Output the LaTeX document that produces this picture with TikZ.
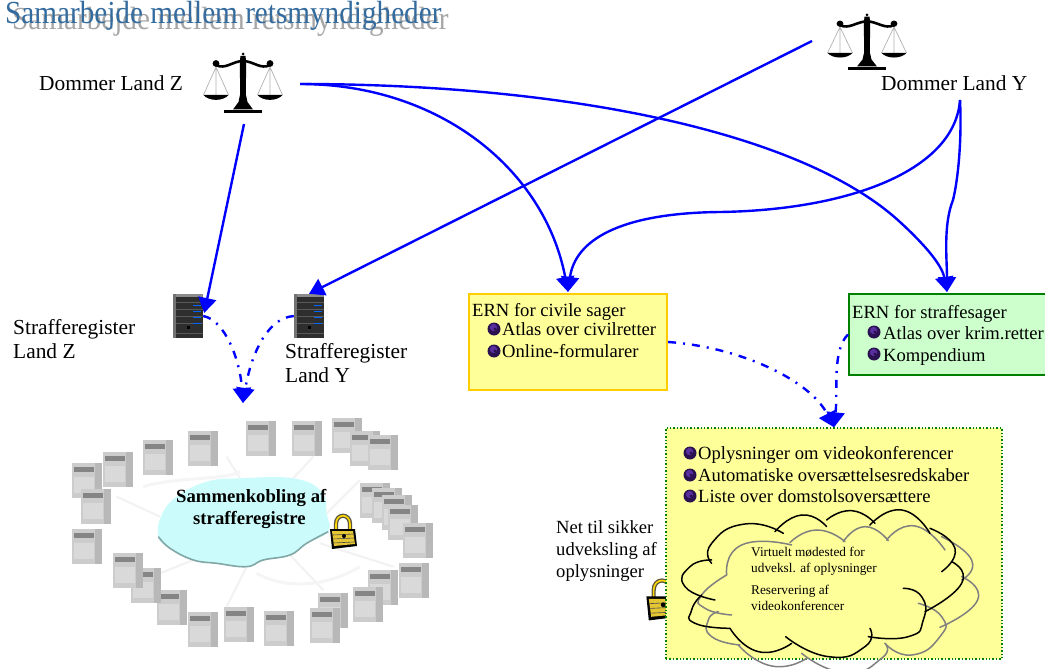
\documentclass[tikz,border=0pt]{standalone}
\usepackage{graphicx}
\usepackage{fontspec}
\setmainfont{Liberation Serif}
\usetikzlibrary{arrows.meta,calc}
\definecolor{linkblue}{HTML}{0000FF}
\definecolor{titleblue}{HTML}{336B9E}
\definecolor{boxyellow}{HTML}{FFFF99}
\definecolor{boxgreen}{HTML}{CCFFCC}
\definecolor{bulletdark}{HTML}{2A1250}
\definecolor{bulletmid}{HTML}{5A2FA0}
\definecolor{cloudpale}{HTML}{CCFBFB}
\newcommand\lobeB[1]{\draw[lobeblack] plot[smooth,tension=1] coordinates {#1};}
\newcommand\lobeG[1]{\draw[lobegray] plot[smooth,tension=1] coordinates {#1};}
\tikzset{
  x=1pt,y=-1pt,
  hardlink/.style={draw=linkblue,line width=2.4pt,-{Triangle[length=15pt,width=18pt]}},
  softlink/.style={hardlink,dash pattern=on 8pt off 7pt on 2pt off 7pt},
  label/.style={anchor=base west,inner sep=0pt,font=\fontsize{21.4}{24}\selectfont},
  small/.style={anchor=base west,inner sep=0pt,font=\fontsize{18.6}{22}\selectfont},
  tiny/.style={anchor=base west,inner sep=0pt,font=\fontsize{13.3}{16}\selectfont},
  boldlabel/.style={anchor=base west,inner sep=0pt,font=\fontsize{18.7}{22}\selectfont\bfseries},
  title/.style={anchor=base west,inner sep=0pt,font=\fontsize{29.2}{32}\selectfont},
  slot/.style={inner sep=0pt,minimum width=30pt,minimum height=44pt},
  lobeblack/.style={draw=black,line width=1.5pt,line cap=round},
  lobegray/.style={draw=black!50,line width=1.5pt,line cap=round},
  pics/scalesicon/.style={code={
    \fill (0,2) circle (1.5);
    \fill (-2.5,4) -- (2.5,4) -- (3.2,10) -- (2.8,42) -- (4.5,50) -- (10,57.5) -- (-10,57.5) -- (-4.5,50) -- (-2.8,42) -- (-3.2,10) -- cycle;
    \fill (-19,58) rectangle (19,61);
    \fill (-27,11.5) circle (3.4);
    \fill (27,11.5) circle (3.4);
    \draw[line width=2.6pt] (-27,13) .. controls (-18,18) and (-10,9) .. (0,9) .. controls (10,9) and (18,18) .. (27,13);
    \foreach \s in {-27,27}{
      \draw[black!30,line width=.7pt] (\s,15) -- (\s-12.5,43) (\s,15) -- (\s,43) (\s,15) -- (\s+12.5,43);
      \fill (\s-12.5,43) .. controls (\s-7,49.5) and (\s+7,49.5) .. (\s+12.5,43) -- cycle;
    }
  }},
  pics/rackicon/.style={code={
    \fill[black!82] (-15,-22) rectangle (15,22);
    \fill[black!55] (-15,-22) rectangle (-12,22);
    \fill[black!45] (-12,-22) -- (15,-22) -- (15,-19) -- (-12,-19) -- cycle;
    \foreach \v in {-14,-7,0,7,17}{\draw[black!65,line width=.4pt] (-12,\v) -- (15,\v);}
    \foreach \v in {-11,-5,1,7}{\draw[blue!60!cyan,line width=1pt] (5,\v) -- (13,\v);}
    \fill[black] (-1,10) rectangle (2,13);
  }},
  pics/towericon/.style={code={
    \fill[black!20] (0,0) rectangle (30,35);
    \fill[black!28] (23,0) rectangle (30,35);
    \fill[black!15] (2,14) rectangle (22,30);
    \fill[black!48] (2,4) rectangle (22,9);
  }},
  pics/dotmark/.style={code={
    \fill[bulletdark] (0,0) circle (6.5);
    \fill[bulletmid] (-0.5,-1.5) circle (3.6);
    \fill[bulletdark] (1,0) circle (1.6);
  }},
  pics/lockicon/.style={code={
    \draw[black!75!yellow,line width=4.2pt] (-7,0) -- (-7,-8) .. controls (-7,-19) and (7,-19) .. (7,-8) -- (7,0);
    \draw[yellow!75!orange,line width=1.6pt] (-7,0) -- (-7,-8) .. controls (-7,-19) and (7,-19) .. (7,-8) -- (7,0);
    \fill[black] (-13,-3) -- (12,-3) -- (14,14) -- (-11,17) -- cycle;
    \fill[yellow!55!brown] (-11,-1) -- (10,-1) -- (12,12) -- (-9,14) -- cycle;
    \foreach \v in {3,7,11}{\draw[black!70,line width=.6pt] (-10,\v) -- (11,\v-1);}
    \fill[black] (1,4) circle (2);
  }}
}
\begin{document}
\begin{tikzpicture}[x=1pt,y=-1pt]
\useasboundingbox (0,0) rectangle (1045,669);
\fill[white] (0,0) rectangle (1045,669);

% title
\node[title,text=black!35] (titleshadow) at (12,29.5) {\scalebox{1}[1.1]{Samarbejde mellem retsmyndigheder}};
\node[title,text=titleblue] (titlemain) at (5,23.5) {\scalebox{1}[1.1]{Samarbejde mellem retsmyndigheder}};

% judges
\pic at (243,52) {scalesicon};
\pic[yscale=.93] at (867,13) {scalesicon};
\node[label] (judgeZ) at (39,91) {Dommer Land Z};
\node[label] (judgeY) at (881,91) {Dommer Land Y};
\coordinate (zout) at (300,84);
\coordinate (zdown) at (244,124);
\coordinate (ydiag) at (812,41);
\coordinate (yout) at (960,100);

% registers
\node[slot] (srvZ) at (188,316) {};
\node[slot] (srvY) at (309,316) {};
\pic at (srvZ) {rackicon};
\pic at (srvY) {rackicon};
\node[label] (regZa) at (13,334) {Strafferegister};
\node[label] (regZb) at (13,358) {Land Z};
\node[label] (regYa) at (285,358) {Strafferegister};
\node[label] (regYb) at (285,382) {Land Y};

% interconnection image
\begin{scope}[shift={(60,400)},x=.3333pt,y=-.3333pt]
  \foreach \a/\b/\c/\d in {540/235/500/170,700/235/760/170,300/350/170/290,800/340/900/240,560/500/500/620,690/465/790/570,400/480/250/540,780/430/1000/500}{
    \draw[white!95!black,line width=2pt] (\a,\b) -- (\c,\d);
  }
  \draw[black!4,line width=3pt] (250,260) .. controls (350,230) and (500,240) .. (540,215);
  \draw[black!4,line width=3pt] (590,520) .. controls (680,570) and (800,560) .. (900,500);
  \fill[cloudpale] plot[smooth cycle,tension=.7] coordinates {(295,410) (305,345) (350,290) (440,245) (540,235) (700,235) (785,275) (800,340) (805,395) (740,430) (690,465) (610,480) (560,500) (470,490) (400,480) (330,445)};
  \draw[black!40!teal!50,line width=1.6pt] plot[smooth,tension=.7] coordinates {(295,410) (330,445) (400,480) (470,490) (560,500) (610,480) (690,465) (740,430) (805,395)};
  \foreach \u/\v in {35/190,130/155,250/120,385/92,558/62,695/62,815/55,870/92,925/105,900/250,935/265,965/285,985/315,1030/370,1018/490,925/510,880/560,775/580,750/625,612/632,492/620,385/635,292/570,212/505,158/460,35/388,62/268}{
    \begin{scope}[shift={(\u,\v)},x=1pt,y=-1pt]
      \pic[x=1pt,y=-1pt] {towericon};
    \end{scope}
  }
\end{scope}
\node[boldlabel] (cloudA) at (176,502) {Sammenkobling af};
\node[boldlabel] (cloudB) at (193,524) {strafferegistre};
\pic at (343,532) {lockicon};
\coordinate (cloudTop) at (243,403);

% ERN boxes
\node[draw={rgb,255:red,255;green,204;blue,0},fill=boxyellow,line width=2.2pt,minimum width=198pt,minimum height=96pt,inner sep=0pt] (ernC) at (568,342) {};
\node[small] (ernCa) at (472,316) {ERN for civile sager};
\pic at (494,329) {dotmark};
\node[small] (ernCb) at (502,335) {Atlas over civilretter};
\pic at (494,351) {dotmark};
\node[small] (ernCc) at (502,357) {Online-formularer};

\node[draw=green!50!black,fill=boxgreen,line width=2pt,minimum width=200pt,minimum height=81pt,inner sep=0pt] (ernS) at (949,334.5) {};
\node[small] (ernSa) at (852,318) {ERN for straffesager};
\pic at (874,332) {dotmark};
\node[small] (ernSb) at (883,339) {Atlas over krim.retter};
\pic at (874,354) {dotmark};
\node[small] (ernSc) at (883,361) {Kompendium};

% secure network
\pic[scale=1.2] at (662,600) {lockicon};
\node[draw=green!50!black,fill=boxyellow,line width=1.4pt,dotted,minimum width=336pt,minimum height=231pt,inner sep=0pt] (netbox) at (834,543.5) {};
\pic at (690,453) {dotmark};
\node[small] (netA) at (698,459) {Oplysninger om videokonferencer};
\pic at (690,475) {dotmark};
\node[small] (netB) at (698,481) {Automatiske oversættelsesredskaber};
\pic at (690,496) {dotmark};
\node[small] (netC) at (698,502) {Liste over domstolsoversættere};
\node[small] (netL1) at (556,533) {Net til sikker};
\node[small] (netL2) at (556,555) {udveksling af};
\node[small] (netL3) at (556,577) {oplysninger};

\begin{scope}[shift={(545,420)},x=.3333pt,y=-.3333pt]
  % gray cloud
  \lobeG{(545,465) (590,375) (740,375)}
  \lobeG{(735,368) (815,330) (900,365)}
  \lobeG{(895,365) (960,320) (1030,362)}
  \lobeG{(1025,360) (1110,318) (1200,390)}
  \lobeG{(1190,350) (1280,420) (1250,480)}
  \lobeG{(1250,470) (1298,540) (1185,622)}
  \lobeG{(1120,550) (1190,590) (1185,650) (1100,705) (1020,670)}
  \lobeG{(1020,670) (1010,715) (900,758) (770,700)}
  \lobeG{(785,715) (680,738) (580,675)}
  \lobeG{(585,675) (500,650) (490,600) (520,575)}
  \lobeG{(560,585) (480,565) (470,525) (545,465)}
  % black cloud
  \lobeB{(500,430) (500,370) (600,312) (715,340)}
  \lobeB{(690,335) (770,285) (845,320)}
  \lobeB{(845,300) (920,272) (990,310)}
  \lobeB{(975,315) (1070,270) (1155,340)}
  \lobeB{(1155,325) (1230,385) (1190,455)}
  \lobeB{(1220,425) (1250,490) (1140,575)}
  \lobeB{(1075,505) (1130,530) (1135,600) (1090,650) (970,650)}
  \lobeB{(975,625) (960,680) (850,710) (722,650)}
  \lobeB{(740,670) (640,695) (555,625)}
  \lobeB{(555,625) (450,610) (440,570) (470,525)}
  \lobeB{(510,540) (420,500) (435,440) (500,420)}
\end{scope}
\node[tiny] (vmA) at (751,556) {Virtuelt mødested for};
\node[tiny] (vmB) at (751,572) {udveksl. af oplysninger};
\node[tiny] (vmC) at (751,594) {Reservering af};
\node[tiny] (vmD) at (751,610) {videokonferencer};

% connectors
\draw[hardlink] (zdown) -- ($(srvZ.east)+(1,-3)$);
\draw[hardlink] (ydiag) -- (srvY.north);
\draw[hardlink] (zout) .. controls (440,84) and (545,170) .. ($(ernC.north)+(0,-1)$);
\draw[hardlink] (zout) .. controls (560,84) and (800,130) .. (900,222) .. controls (925,245) and (942,265) .. ($(ernS.north)+(-2,-1)$);
\draw[hardlink] (yout) .. controls (955,170) and (850,210) .. (720,212) .. controls (620,213) and (575,240) .. ($(ernC.north)+(0,-1)$);
\draw[hardlink] (yout) .. controls (962,140) and (958,180) .. (953,200) .. controls (943,225) and (947,260) .. ($(ernS.north)+(-2,-1)$);
\draw[softlink] (srvZ.east) .. controls (225,320) and (240,360) .. (cloudTop);
\draw[softlink] (srvY.west) .. controls (265,318) and (250,360) .. (cloudTop);
\draw[softlink] (ernC.east) .. controls (740,347) and (810,380) .. (netbox.north);
\draw[softlink] (ernS.west) .. controls (832,350) and (838,390) .. (netbox.north);
\end{tikzpicture}
\end{document}
